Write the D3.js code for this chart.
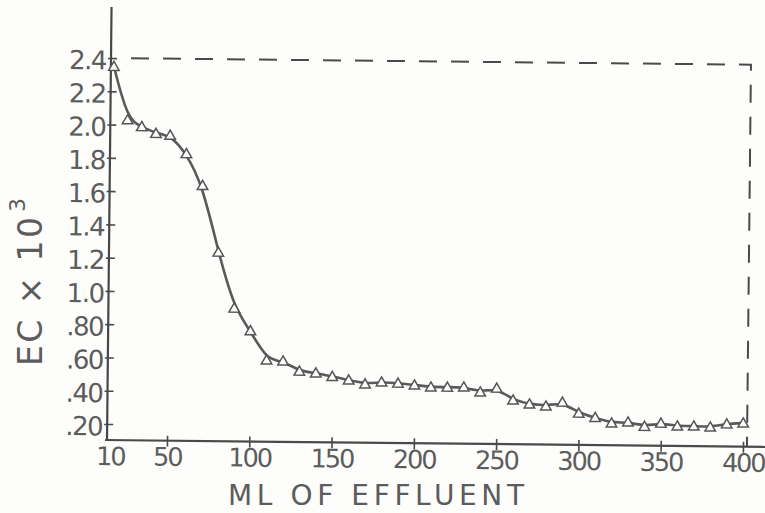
<!DOCTYPE html>
<html>
<head>
<meta charset="utf-8">
<script src="https://cdn.jsdelivr.net/npm/d3@7"></script>
<style>
  body { margin: 0; background: #fdfdfb; }
  svg text { font-family: "DejaVu Sans", Lato, sans-serif; font-weight: 400; fill: #5c5c5c; }
</style>
</head>
<body>
<svg width="765" height="513"></svg>
<script>
// ml of effluent collected, every 10 ml
var ml = [10, 20, 30, 40, 50, 60, 70, 80, 90, 100,
  110, 120, 130, 140, 150, 160, 170, 180, 190, 200,
  210, 220, 230, 240, 250, 260, 270, 280, 290, 300,
  310, 320, 330, 340, 350, 360, 370, 380, 390, 400];
// EC x 10^3
var ec = [2.35, 2.03, 1.99, 1.95, 1.94, 1.83, 1.64, 1.24, 0.905, 0.77,
  0.595, 0.59, 0.53, 0.52, 0.50, 0.48, 0.457, 0.47, 0.464, 0.454,
  0.443, 0.443, 0.445, 0.416, 0.44, 0.37, 0.347, 0.336, 0.36, 0.295,
  0.27, 0.238, 0.245, 0.22, 0.24, 0.224, 0.225, 0.22, 0.24, 0.246];

var yTicks = [0.2, 0.4, 0.6, 0.8, 1.0, 1.2, 1.4, 1.6, 1.8, 2.0, 2.2, 2.4];
var yTickLabels = [".20", ".40", ".60", ".80", "1.0", "1.2", "1.4", "1.6", "1.8", "2.0", "2.2", "2.4"];
var xTicks = [10, 50, 100, 150, 200, 250, 300, 350, 400];

var originX = 107;
var originY = 440;

// hand drawn axis: the first 40 ml are squeezed a bit
var xScale = d3.scaleLinear()
  .domain([10, 50, 400])
  .range([110, 167, 743]);
var yScale = d3.scaleLinear()
  .domain([0.2, 2.4])
  .range([424, 58]);

var svg = d3.select('svg');

// the scan is turned a little clockwise
var g = svg.append('g')
  .attr('transform', 'rotate(0.6,' + originX + ',' + originY + ')');

// y axis
var yAxis = d3.axisLeft(yScale)
  .tickValues(yTicks)
  .tickSize(0)
  .tickPadding(5)
  .tickFormat(function(d, i) { return yTickLabels[i]; });

var ya = g.append('g')
  .attr('transform', 'translate(' + originX + ',0)')
  .call(yAxis);
ya.select('.domain').remove();
ya.selectAll('.tick line')
  .attr('x1', -3).attr('x2', 6)
  .attr('stroke', '#4a4a4a').attr('stroke-width', 1.6);
ya.selectAll('.tick text')
  .attr('dy', '0.42em')
  .style('font-size', '26px')
  .style('letter-spacing', '-1.5px');

g.append('line')
  .attr('x1', originX).attr('x2', originX)
  .attr('y1', 7).attr('y2', originY)
  .attr('stroke', '#474747').attr('stroke-width', 2.2);

// x axis
var xAxis = d3.axisBottom(xScale)
  .tickValues(xTicks)
  .tickSize(0)
  .tickFormat(d3.format('d'));

var xa = g.append('g')
  .attr('transform', 'translate(0,' + originY + ')')
  .call(xAxis);
xa.select('.domain').remove();
xa.selectAll('.tick line')
  .attr('y1', -5).attr('y2', 6)
  .attr('stroke', '#4a4a4a').attr('stroke-width', 1.6)
  .filter(function(d) { return d === 10; }).remove();
xa.selectAll('.tick text')
  .attr('y', 7)
  .attr('dy', '0.71em')
  .style('font-size', '25.5px')
  .style('letter-spacing', '-2px');

g.append('line')
  .attr('x1', originX - 2).attr('x2', 790)
  .attr('y1', originY).attr('y2', originY)
  .attr('stroke', '#4a4a4a').attr('stroke-width', 2.2);

// dashed frame at 2.4 / 400 ml
g.append('path')
  .attr('d', 'M' + (originX + 20) + ',' + yScale(2.4) +
    'H' + (xScale(400) + 4) + 'V' + originY)
  .attr('fill', 'none')
  .attr('stroke', '#4a4a4a')
  .attr('stroke-width', 2)
  .attr('stroke-dasharray', '18,14');

// curve
var line = d3.line()
  .x(function(d, i) { return xScale(ml[i]); })
  .y(function(d) { return yScale(d); })
  .curve(d3.curveBasis);

g.append('path')
  .datum(ec)
  .attr('d', line)
  .attr('fill', 'none')
  .attr('stroke', '#5a5a5a')
  .attr('stroke-width', 2.6);

// triangle markers
g.selectAll('.pt')
  .data(ec)
  .enter()
  .append('path')
  .attr('class', 'pt')
  .attr('d', d3.symbol(d3.symbolTriangle, 48))
  .attr('transform', function(d, i) {
    return 'translate(' + xScale(ml[i]) + ',' + (yScale(d) + 1) + ')';
  })
  .attr('fill', '#fdfdfb')
  .attr('stroke', '#555')
  .attr('stroke-width', 1.5);

// titles
svg.append('text')
  .attr('x', 228)
  .attr('y', 505)
  .attr('textLength', 296)
  .attr('lengthAdjust', 'spacing')
  .style('font-size', '28px')
  .text('ML OF EFFLUENT');

svg.append('text')
  .attr('transform', 'translate(42,366) rotate(-90)')
  .attr('textLength', 149)
  .attr('lengthAdjust', 'spacing')
  .style('font-size', '33px')
  .text('EC × 10');

svg.append('text')
  .attr('transform', 'translate(25,212) rotate(-90)')
  .style('font-size', '22px')
  .text('3');
</script>
</body>
</html>
